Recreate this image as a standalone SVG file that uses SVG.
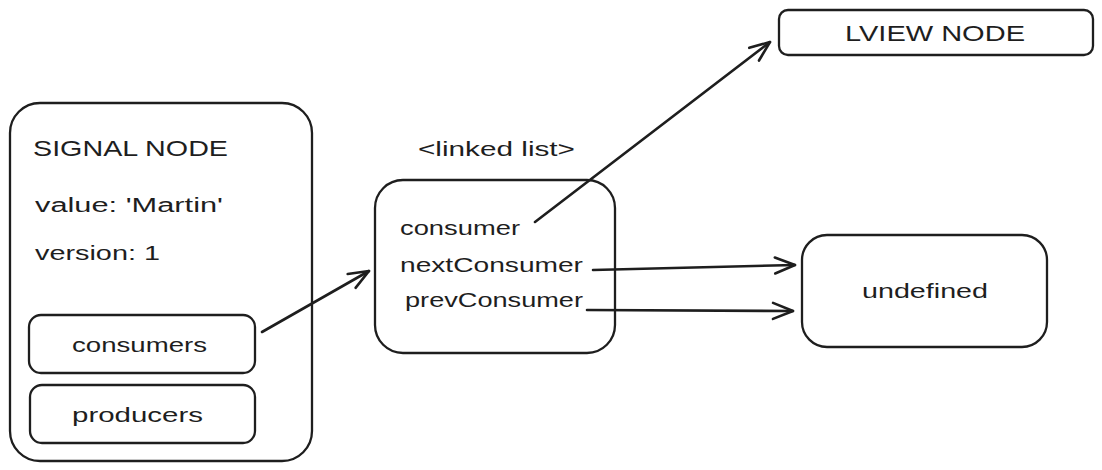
<svg xmlns="http://www.w3.org/2000/svg" width="1102" height="470" viewBox="0 0 1102 470">
<style>
.box{fill:none;stroke:#1e1e1e;stroke-width:2.3;stroke-linejoin:round}
.t{font-family:"Liberation Sans","DejaVu Sans",sans-serif;font-size:20px;fill:#1e1e1e}
.cap{font-size:22px}
.edge{fill:none;stroke:#1e1e1e;stroke-width:2.6;stroke-linecap:round}
</style>
<defs>
<marker id="arr" viewBox="0 0 24 24" refX="22" refY="12" markerWidth="24" markerHeight="24" markerUnits="userSpaceOnUse" orient="auto">
<path d="M2,4 L22,12 L2,20" fill="none" stroke="#1e1e1e" stroke-width="2.6" stroke-linecap="round" stroke-linejoin="round"/>
</marker>
</defs>
<rect width="1102" height="470" fill="#ffffff"/>
<g id="signal-node">
<rect class="box" x="10" y="103" width="302" height="358" rx="30"/>
<text class="t cap" x="33" y="156" textLength="195" lengthAdjust="spacingAndGlyphs">SIGNAL NODE</text>
<text class="t" x="35" y="212" textLength="188" lengthAdjust="spacingAndGlyphs">value: 'Martin'</text>
<text class="t" x="35" y="260" textLength="125" lengthAdjust="spacingAndGlyphs">version: 1</text>
</g>
<g id="consumers">
<rect class="box" x="29" y="315" width="226" height="58" rx="12"/>
<text class="t" x="72" y="352" textLength="135" lengthAdjust="spacingAndGlyphs">consumers</text>
</g>
<g id="producers">
<rect class="box" x="30" y="385" width="225" height="58" rx="12"/>
<text class="t" x="72" y="422" textLength="131" lengthAdjust="spacingAndGlyphs">producers</text>
</g>
<g id="linked-list">
<text class="t" x="418" y="156" textLength="157" lengthAdjust="spacingAndGlyphs">&lt;linked list&gt;</text>
<rect class="box" x="375" y="180" width="240" height="173" rx="28"/>
<text class="t" x="400" y="235" textLength="120" lengthAdjust="spacingAndGlyphs">consumer</text>
<text class="t" x="400" y="272" textLength="183" lengthAdjust="spacingAndGlyphs">nextConsumer</text>
<text class="t" x="405" y="307" textLength="178" lengthAdjust="spacingAndGlyphs">prevConsumer</text>
</g>
<g id="lview-node">
<rect class="box" x="779" y="10" width="314" height="45" rx="9"/>
<text class="t cap" x="845" y="41" textLength="180" lengthAdjust="spacingAndGlyphs">LVIEW NODE</text>
</g>
<g id="undefined-node">
<rect class="box" x="802" y="235" width="245" height="112" rx="25"/>
<text class="t" x="862" y="298" textLength="126" lengthAdjust="spacingAndGlyphs">undefined</text>
</g>
<g id="connectors">
<line class="edge" x1="262" y1="332" x2="369" y2="271" marker-end="url(#arr)"/>
<line class="edge" x1="535" y1="222" x2="770" y2="42" marker-end="url(#arr)"/>
<line class="edge" x1="593" y1="270" x2="795" y2="265" marker-end="url(#arr)"/>
<line class="edge" x1="587" y1="310" x2="793" y2="311" marker-end="url(#arr)"/>
</g>
</svg>
